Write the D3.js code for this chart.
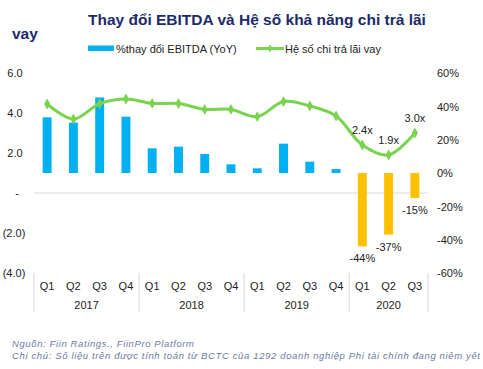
<!DOCTYPE html>
<html><head><meta charset="utf-8">
<script src="https://cdn.jsdelivr.net/npm/d3@7"></script>
<style>
html,body{margin:0;padding:0;background:#fff;}
text{font-family:"Liberation Sans",Arial,sans-serif;}
</style></head>
<body><svg id="c" width="483" height="369"></svg>
<script>
const quarters = ["Q1","Q2","Q3","Q4","Q1","Q2","Q3","Q4","Q1","Q2","Q3","Q4","Q1","Q2","Q3"];
const years = ["2017","2018","2019","2020"];
const yearSpans = [4,4,4,3];
const ebitdaChange = [33.4, 30.2, 45.3, 33.8, 14.8, 15.8, 11.4, 5.2, 2.8, 17.6, 6.8, 2.4, -44, -37, -15];
const coverage = [4.45, 3.7, 4.47, 4.7, 4.48, 4.47, 4.18, 4.18, 3.82, 4.57, 4.35, 3.85, 2.4, 1.9, 3.0];
const labeledIdx = [12, 13, 14];
const leftTicks = [-4, -2, 0, 2, 4, 6];
const leftTickLabels = ["(4.0)", "(2.0)", "-", "2.0", "4.0", "6.0"];
const rightTicks = [-60, -40, -20, 0, 20, 40, 60];
const seriesNames = ["%thay đổi EBITDA (YoY)", "Hệ số chi trả lãi vay"];
const titleLine1 = "Thay đổi EBITDA và Hệ số khả năng chi trả lãi";
const titleLine2 = "vay";
const footer1 = "Nguồn: Fiin Ratings., FiinPro Platform";
const footer2 = "Chi chú: Số liệu trên được tính toán từ BCTC của 1292 doanh nghiệp Phi tài chính đang niêm yết";

const svg = d3.select("#c");
const blue = "#00b0f0", yellow = "#ffc000", green = "#7ad34e", navy = "#1c2a6a";
const fmtPct = d => d3.format(".0f")(d).replace("\u2212", "-") + "%";

const x = d3.scaleBand().domain(d3.range(quarters.length)).range([34, 428]).paddingInner(0.66).paddingOuter(0.33);
const yL = d3.scaleLinear().domain([-4, 6]).range([273, 73]);
const yR = d3.scaleLinear().domain([-60, 60]).range([273, 73]);
const cx = i => x(i) + x.bandwidth() / 2;

// title
svg.append("text").attr("x", 88).attr("y", 25).attr("font-size", 15.5).attr("font-weight", "bold").attr("fill", navy).text(titleLine1);
svg.append("text").attr("x", 12).attr("y", 39).attr("font-size", 15.5).attr("font-weight", "bold").attr("fill", navy).text(titleLine2);

// legend
svg.append("rect").attr("x", 88).attr("y", 45.5).attr("width", 26).attr("height", 5.5).attr("fill", blue);
svg.append("text").attr("x", 116).attr("y", 52.5).attr("font-size", 11).attr("fill", "#222").text(seriesNames[0]);
svg.append("line").attr("x1", 256).attr("x2", 284).attr("y1", 48.5).attr("y2", 48.5).attr("stroke", green).attr("stroke-width", 3);
svg.append("path").attr("d", d3.symbol(d3.symbolDiamond, 18)()).attr("transform", "translate(270,48.5)").attr("fill", green);
svg.append("text").attr("x", 285).attr("y", 52.5).attr("font-size", 11).attr("fill", "#222").text(seriesNames[1]);

// left axis
const axL = svg.append("g").attr("transform", "translate(24,0)")
  .call(d3.axisLeft(yL).tickValues(leftTicks).tickSize(0).tickPadding(0).tickFormat((d, i) => leftTickLabels[i]));
axL.select(".domain").remove();
axL.selectAll("text").attr("font-size", 11).attr("fill", "#222").attr("font-family", "Liberation Sans, Arial, sans-serif")
  .attr("text-anchor", "middle").attr("dx", -9).attr("dy", "0.35em");
axL.selectAll("text").filter(d => d === 0).attr("dx", -7);
axL.selectAll("text").filter(d => d < 0).attr("dx", -10);

// right axis
const axR = svg.append("g").attr("transform", "translate(437,0)")
  .call(d3.axisRight(yR).tickValues(rightTicks).tickSize(0).tickPadding(0).tickFormat(d => d + "%"));
axR.select(".domain").remove();
axR.selectAll("text").attr("font-size", 11).attr("fill", "#222").attr("font-family", "Liberation Sans, Arial, sans-serif").attr("dy", "0.35em");

// gridline at left zero
svg.append("line").attr("x1", 34).attr("x2", 428).attr("y1", yL(0)).attr("y2", yL(0)).attr("stroke", "#d9d9d9").attr("stroke-width", 1);

// bars
svg.append("g").selectAll("rect").data(ebitdaChange).join("rect")
  .attr("x", (d, i) => x(i)).attr("width", x.bandwidth())
  .attr("y", d => yR(Math.max(0, d))).attr("height", d => Math.abs(yR(d) - yR(0)))
  .attr("fill", d => d < 0 ? yellow : blue);

// line
const line = d3.line().x((d, i) => cx(i)).y(d => yL(d)).curve(d3.curveCatmullRom.alpha(0.5));
svg.append("path").datum(coverage).attr("d", line).attr("fill", "none").attr("stroke", green).attr("stroke-width", 3);
svg.append("g").selectAll("path").data(coverage).join("path")
  .attr("d", d3.symbol(d3.symbolDiamond, 34)())
  .attr("transform", (d, i) => `translate(${cx(i)},${yL(d)})`).attr("fill", green);

// data labels
svg.append("g").selectAll("text").data(labeledIdx).join("text")
  .attr("x", i => cx(i)).attr("y", i => yL(coverage[i]) - 11).attr("text-anchor", "middle")
  .attr("font-size", 11).attr("fill", "#222").text(i => d3.format(".1f")(coverage[i]) + "x");
svg.append("g").selectAll("text").data(labeledIdx).join("text")
  .attr("x", i => cx(i)).attr("y", i => yR(ebitdaChange[i]) + 16).attr("text-anchor", "middle")
  .attr("font-size", 11).attr("fill", "#222").text(i => fmtPct(ebitdaChange[i]));

// category axis
svg.append("g").selectAll("text").data(quarters).join("text")
  .attr("x", (d, i) => cx(i)).attr("y", 290).attr("text-anchor", "middle").attr("font-size", 11).attr("fill", "#222").text(d => d);
let start = 0;
const sepX = [x.range()[0]];
years.forEach((yv, k) => {
  const s = start, e = start + yearSpans[k] - 1;
  const mid = (cx(s) + cx(e)) / 2;
  svg.append("text").attr("x", mid).attr("y", 309).attr("text-anchor", "middle").attr("font-size", 11).attr("fill", "#222").text(yv);
  start += yearSpans[k];
  sepX.push(x(e) + x.bandwidth() + x.step() * 0.33);
});
svg.append("g").selectAll("line").data(sepX).join("line")
  .attr("x1", d => d).attr("x2", d => d).attr("y1", 273).attr("y2", 312)
  .attr("stroke", "#d9d9d9").attr("stroke-width", 1);

// footer
svg.append("text").attr("x", 12).attr("y", 347).attr("font-size", 9.5).attr("font-style", "italic").attr("fill", "#6b7aa1")
  .attr("textLength", 182).attr("lengthAdjust", "spacing").text(footer1);
svg.append("text").attr("x", 12).attr("y", 358.5).attr("font-size", 9.5).attr("font-style", "italic").attr("fill", "#6b7aa1")
  .attr("textLength", 468).attr("lengthAdjust", "spacing").text(footer2);
</script></body></html>
